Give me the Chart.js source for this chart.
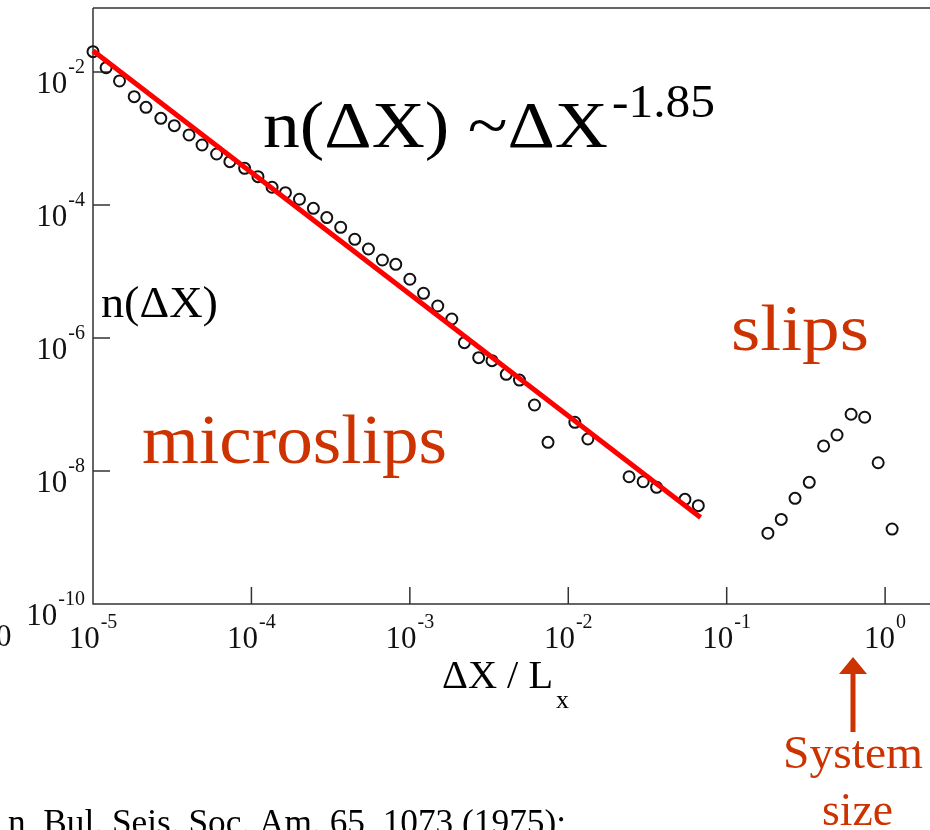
<!DOCTYPE html>
<html lang="en">
<head>
  <meta charset="UTF-8" />
  <title>n(ΔX) slip size distribution</title>
  <script src="https://cdn.jsdelivr.net/npm/chart.js"></script>
  <style>
    body { margin: 0; background: #fff; }
    #wrap { width: 930px; height: 830px; }
  </style>
</head>
<body>
  <div id="wrap"><canvas id="slipChart" width="930" height="830"></canvas></div>

  <script>
    // microslips (small events, follow the power law)
    const microSize = [1.00e-5, 1.21e-5, 1.47e-5, 1.82e-5, 2.16e-5, 2.68e-5, 3.26e-5, 4.04e-5, 4.88e-5, 6.03e-5,
      7.31e-5, 9.06e-5, 1.10e-4, 1.35e-4, 1.64e-4, 2.01e-4, 2.46e-4, 2.99e-4, 3.66e-4, 4.49e-4,
      5.48e-4, 6.71e-4, 8.15e-4, 1.00e-3, 1.22e-3, 1.50e-3, 1.84e-3, 2.21e-3, 2.72e-3, 3.30e-3,
      4.06e-3, 4.92e-3, 6.12e-3, 7.45e-3, 1.10e-2, 1.33e-2, 2.42e-2, 2.97e-2, 3.61e-2, 5.45e-2, 6.62e-2];
    const microCount = [2.02e-2, 1.16e-2, 7.33e-3, 4.26e-3, 2.94e-3, 2.01e-3, 1.56e-3, 1.13e-3, 7.98e-4, 5.85e-4,
      4.48e-4, 3.56e-4, 2.67e-4, 1.85e-4, 1.53e-4, 1.22e-4, 8.91e-5, 6.46e-5, 4.62e-5, 3.05e-5,
      2.18e-5, 1.49e-5, 1.28e-5, 7.64e-6, 4.70e-6, 3.03e-6, 1.93e-6, 8.51e-7, 5.06e-7, 4.56e-7,
      2.84e-7, 2.33e-7, 9.82e-8, 2.70e-8, 5.40e-8, 3.03e-8, 8.20e-9, 6.90e-9, 5.69e-9, 3.75e-9, 3.01e-9];

    // system-size slips
    const slipSize = [0.182, 0.221, 0.270, 0.332, 0.409, 0.497, 0.610, 0.743, 0.904, 1.107];
    const slipCount = [1.16e-9, 1.87e-9, 3.88e-9, 6.76e-9, 2.38e-8, 3.48e-8, 7.13e-8, 6.43e-8, 1.33e-8, 1.34e-9];

    // red fit line, end points
    const fitSize = [1.0e-5, 6.84e-2];
    const fitCount = [2.09e-2, 2.0e-9];

    const xTickExp = [-5, -4, -3, -2, -1, 0];
    const yTickExp = [-2, -4, -6, -8, -10];

    const SERIF = '"Liberation Serif", "Times New Roman", serif';
    const RED = '#cc3300';
    const AXIS = '#333';

    const toPts = (xs, ys) => xs.map((x, i) => ({ x: x, y: ys[i] }));

    // text squeezed/stretched to the width it has in the slide
    function fitText(ctx, str, x, y, size, color, width) {
      ctx.save();
      ctx.font = size + 'px ' + SERIF;
      ctx.fillStyle = color;
      ctx.textBaseline = 'alphabetic';
      ctx.textAlign = 'left';
      const w = ctx.measureText(str).width;
      ctx.translate(x, y);
      if (width) ctx.scale(width / w, 1);
      ctx.fillText(str, 0, 0);
      ctx.restore();
    }

    // "10" with a superscript exponent
    function powWidths(ctx, exp) {
      ctx.font = '31px ' + SERIF;
      const a = ctx.measureText('10').width;
      ctx.font = '20px ' + SERIF;
      const b = ctx.measureText(String(exp)).width;
      return [a, b];
    }
    function drawPow(ctx, exp, left, base) {
      const [a] = powWidths(ctx, exp);
      ctx.fillStyle = '#111';
      ctx.textAlign = 'left';
      ctx.textBaseline = 'alphabetic';
      ctx.font = '31px ' + SERIF;
      ctx.fillText('10', left, base);
      ctx.font = '20px ' + SERIF;
      ctx.fillText(String(exp), left + a + 1, base - 20);
    }

    const axesPlugin = {
      id: 'axesPlugin',
      beforeDatasetsDraw(chart) {
        const { ctx, chartArea: ca, scales: { x, y } } = chart;
        ctx.save();
        ctx.strokeStyle = AXIS;
        ctx.lineWidth = 1.5;
        ctx.beginPath();
        ctx.moveTo(ca.left, ca.top); ctx.lineTo(ca.right, ca.top);
        ctx.moveTo(ca.left, ca.top); ctx.lineTo(ca.left, ca.bottom);
        ctx.lineTo(ca.right, ca.bottom);
        xTickExp.forEach(e => {
          const px = x.getPixelForValue(Math.pow(10, e));
          ctx.moveTo(px, ca.bottom); ctx.lineTo(px, ca.bottom - 17);
        });
        yTickExp.forEach(e => {
          const py = y.getPixelForValue(Math.pow(10, e));
          ctx.moveTo(ca.left, py); ctx.lineTo(ca.left + 17, py);
        });
        ctx.stroke();

        // tick labels
        yTickExp.forEach(e => {
          const py = y.getPixelForValue(Math.pow(10, e));
          const [a, b] = powWidths(ctx, e);
          drawPow(ctx, e, ca.left - 8 - b - 1 - a, py + 21);
        });
        xTickExp.forEach(e => {
          const px = x.getPixelForValue(Math.pow(10, e));
          const [a, b] = powWidths(ctx, e);
          drawPow(ctx, e, px - (a + 1 + b) / 2, ca.bottom + 44);
        });
        // stray "0" of a label cut off at the left edge
        ctx.font = '31px ' + SERIF;
        ctx.fillText('0', -4, ca.bottom + 42);
        ctx.restore();
      },
      afterDraw(chart) {
        const { ctx } = chart;
        fitText(ctx, 'n(ΔX) ~ΔX', 263, 147, 66, '#000', 345);
        fitText(ctx, '-1.85', 612, 117, 46, '#000', 103);
        fitText(ctx, 'n(ΔX)', 101, 317, 44, '#000', 117);
        fitText(ctx, 'slips', 731, 350, 66, RED, 138);
        fitText(ctx, 'microslips', 142, 463, 69, RED, 305);

        // axis title
        fitText(ctx, 'ΔX / L', 442, 688, 41, '#000', 111);
        fitText(ctx, 'x', 556, 708, 26, '#000');

        // arrow + System size
        ctx.save();
        ctx.fillStyle = RED;
        ctx.fillRect(850.5, 670, 5, 62);
        ctx.beginPath();
        ctx.moveTo(853, 657); ctx.lineTo(867, 674); ctx.lineTo(839, 674);
        ctx.closePath();
        ctx.fill();
        ctx.restore();
        fitText(ctx, 'System', 783, 768, 47, RED, 140);
        fitText(ctx, 'size', 822, 825, 47, RED, 71);

        // reference line, cut by the bottom edge
        fitText(ctx, 'n, Bul. Seis. Soc. Am. 65, 1073 (1975);', 8, 834, 36, '#000', 558);
      }
    };

    const ctx = document.getElementById('slipChart').getContext('2d');
    new Chart(ctx, {
      type: 'scatter',
      data: {
        datasets: [
          {
            label: 'fit',
            data: toPts(fitSize, fitCount),
            showLine: true,
            borderColor: '#ff0000',
            borderWidth: 5,
            pointRadius: 0,
            clip: false
          },
          {
            label: 'microslips',
            data: toPts(microSize, microCount),
            pointStyle: 'circle',
            pointRadius: 5.5,
            borderWidth: 2,
            borderColor: '#111',
            backgroundColor: 'rgba(0,0,0,0)',
            clip: false
          },
          {
            label: 'slips',
            data: toPts(slipSize, slipCount),
            pointStyle: 'circle',
            pointRadius: 5.5,
            borderWidth: 2,
            borderColor: '#111',
            backgroundColor: 'rgba(0,0,0,0)',
            clip: false
          }
        ]
      },
      options: {
        responsive: false,
        animation: false,
        devicePixelRatio: 1,
        layout: { autoPadding: false, padding: { left: 93, top: 8, right: 0, bottom: 226 } },
        plugins: { legend: { display: false }, tooltip: { enabled: false } },
        scales: {
          x: { type: 'logarithmic', min: 1e-5, max: 1.92, bounds: 'data', display: false },
          y: { type: 'logarithmic', min: 1e-10, max: 0.0917, bounds: 'data', display: false }
        }
      },
      plugins: [axesPlugin]
    });
  </script>
</body>
</html>
